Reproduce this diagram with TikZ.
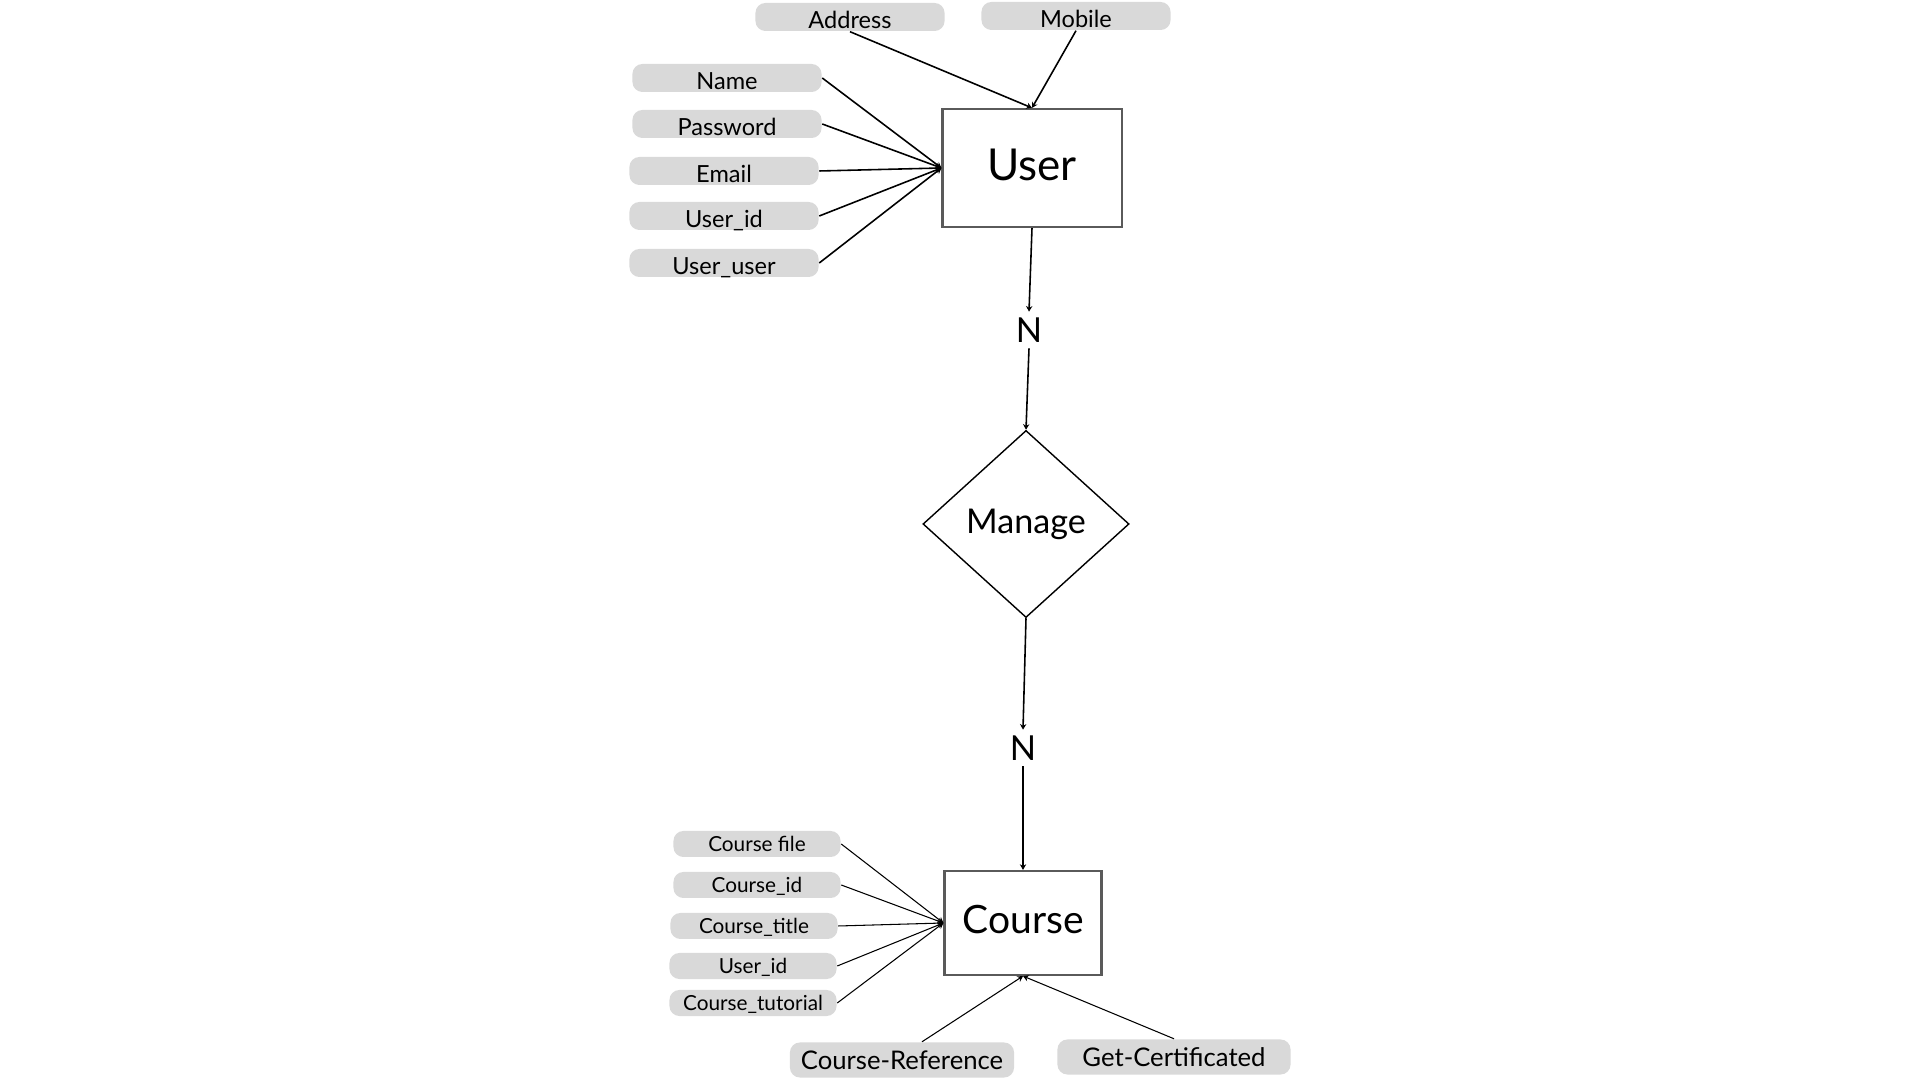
\documentclass[tikz,border=0pt]{standalone}
\usepackage{fontspec}
\setmainfont{Lato}
\usetikzlibrary{arrows.meta,positioning,shapes.geometric}
\definecolor{pillgray}{HTML}{D9D9D9}
\definecolor{boxgray}{HTML}{5A5A5A}

\begin{document}
\begin{tikzpicture}[x=0.01cm,y=-0.01cm,->,>={Stealth[length=1.6pt,width=1.8pt]},
  attr/.style={fill=pillgray,rounded corners=1mm,minimum width=1.89cm,minimum height=0.28cm,inner sep=0pt,
    text height=6.4pt,text depth=0pt,font=\fontsize{6.7}{7}\selectfont},
  cattr/.style={attr,minimum width=1.67cm,minimum height=0.26cm,text height=4.4pt,font=\fontsize{5.9}{6}\selectfont},
  battr/.style={attr,minimum height=0.35cm,text height=5.6pt,font=\fontsize{7.3}{8}\selectfont},
  entity/.style={draw=boxgray,line width=0.6pt,inner sep=0pt,text depth=0.2em},
  rel/.style={diamond,draw,line width=0.4pt,minimum width=2.06cm,minimum height=1.87cm,inner sep=0pt,font=\fontsize{9.7}{10}\selectfont},
  card/.style={font=\fontsize{9.8}{10}\selectfont,inner sep=1.5pt},
  link/.style={line width=0.45pt}]

  \useasboundingbox[fill=white] (0,0) rectangle (1920,1080);

  % user side
  \node[entity,minimum width=1.79cm,minimum height=1.18cm,font=\fontsize{12.5}{13}\selectfont] (user) at (1032,168) {User};
  \node[attr] (address) at (850,17) {Address};
  \node[attr] (mobile) at (1076,16) {Mobile};
  \node[attr] (name) at (727,78) {Name};
  \node[attr] (password) at (727,124) {Password};
  \node[attr] (email) at (724,171) {Email};
  \node[attr] (userid) at (724,216) {User\_id};
  \node[attr] (useruser) at (724,263) {User\_user};

  % relation
  \node[card] (n1) at (1029,330) {N};
  \node[rel] (manage) at (1026,524) {Manage};
  \node[card] (n2) at (1023,748) {N};

  % course side
  \node[entity,minimum width=1.57cm,minimum height=1.04cm,font=\fontsize{11.1}{12}\selectfont] (course) at (1023,923) {Course};
  \node[cattr] (cfile) at (757,844) {Course file};
  \node[cattr] (cid) at (757,885) {Course\_id};
  \node[cattr] (ctitle) at (754,926) {Course\_title};
  \node[cattr] (cuser) at (753,966) {User\_id};
  \node[cattr] (ctut) at (753,1003) {Course\_tutorial};
  \node[battr,minimum width=2.24cm] (cref) at (902,1060) {Course-Reference};
  \node[battr,minimum width=2.33cm] (cert) at (1174,1057) {Get-Certificated};

  \path[link]
    (name.east) edge (user.west)
    (password.east) edge (user.west)
    (email.east) edge (user.west)
    (userid.east) edge (user.west)
    (useruser.east) edge (user.west)
    (address.south) edge (user.north)
    (mobile.south) edge (user.north)
    (user.south) edge (n1.north)
    (n1.south) edge (manage.north)
    (manage.south) edge (n2.north)
    (n2.south) edge (course.north);

  \path[link,line width=0.3pt]
    (cfile.east) edge (course.west)
    (cid.east) edge (course.west)
    (ctitle.east) edge (course.west)
    (cuser.east) edge (course.west)
    (ctut.east) edge (course.west)
    ([xshift=2mm]cref.north) edge (course.south)
    (cert.north) edge (course.south);

\end{tikzpicture}
\end{document}
